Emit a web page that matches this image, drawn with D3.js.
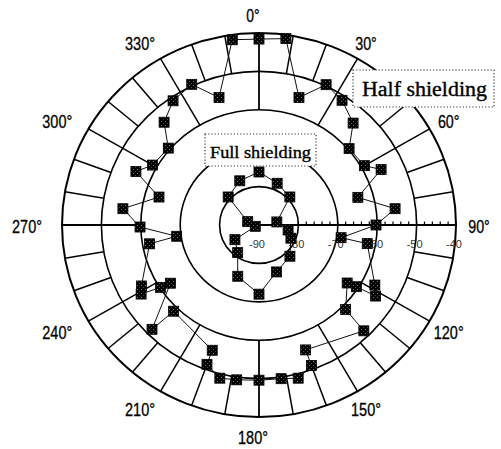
<!DOCTYPE html>
<html>
<head>
<meta charset="utf-8">
<script src="https://cdn.jsdelivr.net/npm/d3@7"></script>
<style>
  body { margin: 0; background: #fff; }
  svg { display: block; }
</style>
</head>
<body>
<svg id="chart" width="501" height="449"></svg>
<script>
// radial axis (dB)
var ringValues = [-80, -70, -60, -50, -40];
var radialLabels = ["-90", "-80", "-70", "-60", "-50", "-40"];
var angleLabels = [0, 30, 60, 90, 120, 150, 180, 210, 240, 270, 300, 330];

// Half shielding (deg, dB)
var halfAngle = [0, 8, 17, 25, 33, 42, 49, 60, 65, 74, 83, 90, 99, 100, 118, 122, 123, 124,
  135, 136, 160, 160, 166, 172, 180, 188, 194, 200, 200, 224, 225, 236, 237, 239, 242,
  260, 262, 269, 277, 286, 294, 300, 311, 318, 326, 335, 343, 352];
var halfDb = [-41.6, -41.0, -55.3, -49.7, -51.3, -54.3, -59.7, -59.1, -55.8, -63.9, -55.2, -60.3, -68.9, -62.1, -56.7, -55.1, -60.5, -63.0,
  -58.9, -51.7, -55.4, -51.1, -48.9, -49.6, -49.6, -49.3, -48.9, -51.4, -55.3, -58.8, -51.6, -62.9, -60.2, -55.1, -56.2,
  -61.8, -68.9, -59.8, -55.2, -63.6, -55.8, -58.8, -59.5, -54.0, -51.0, -49.6, -55.3, -41.3];

// Full shielding (deg, dB)
var fullAngle = [0, 23, 47, 80, 100, 113, 136, 160, 180, 202, 217, 238, 250, 287, 313, 337];
var fullDb = [-76.2, -78.2, -79.3, -85.4, -82.5, -81.2, -78.7, -77.0, -72.0, -75.6, -81.0, -82.8, -89.0, -87.0, -79.3, -77.5];

var svg = d3.select("#chart");
var cx = 259, cy = 225, ky = 0.975;

var r = d3.scaleLinear().domain([-90, -40]).range([0, 197]);
var ang = d3.scaleLinear().domain([0, 360]).range([0, 2 * Math.PI]);

function px(a, v) { return cx + r(v) * Math.sin(ang(a)); }
function py(a, v) { return cy - r(v) * Math.cos(ang(a)) * ky; }

var defs = svg.append("defs");
var pat = defs.append("pattern").attr("id", "speckle")
  .attr("width", 4).attr("height", 4).attr("patternUnits", "userSpaceOnUse");
pat.append("rect").attr("width", 4).attr("height", 4).attr("fill", "#000");
pat.append("rect").attr("x", 1).attr("y", 1).attr("width", 1).attr("height", 1).attr("fill", "#777");
pat.append("rect").attr("x", 3).attr("y", 3).attr("width", 1).attr("height", 1).attr("fill", "#444");

var grid = svg.append("g").attr("stroke", "#000").attr("fill", "none");

// rings
grid.selectAll("ellipse").data(ringValues).enter().append("ellipse")
  .attr("cx", cx).attr("cy", cy)
  .attr("rx", function (d) { return r(d); })
  .attr("ry", function (d) { return r(d) * ky; })
  .attr("stroke-width", function (d) { return d == -40 ? 2 : 1.6; });

// spokes: every 10 deg in outer band, every 30 deg from -60 ring
var spokes = d3.range(0, 360, 10);
grid.selectAll("line.spoke").data(spokes).enter().append("line")
  .attr("class", "spoke")
  .attr("x1", function (d) { return px(d, d == 90 ? -90 : (d % 30 == 0 ? -60 : -50)); })
  .attr("y1", function (d) { return py(d, d == 90 ? -90 : (d % 30 == 0 ? -60 : -50)); })
  .attr("x2", function (d) { return px(d, -40); })
  .attr("y2", function (d) { return py(d, -40); })
  .attr("stroke-width", function (d) { return d % 90 == 0 ? 1.8 : 1.5; });

// minor ticks on radial axis
grid.selectAll("line.tick").data(d3.range(-80, -39, 2)).enter().append("line")
  .attr("class", "tick")
  .attr("x1", function (d) { return px(90, d); })
  .attr("x2", function (d) { return px(90, d); })
  .attr("y1", cy).attr("y2", cy - 3.5)
  .attr("stroke-width", 1.2);

// radial labels
svg.append("g").selectAll("text").data(radialLabels).enter().append("text")
  .attr("x", function (d) { return px(90, +d) - 2; })
  .attr("y", cy + 23)
  .attr("text-anchor", "middle")
  .attr("font-family", "Liberation Sans, Arial, sans-serif")
  .attr("font-size", 11)
  .attr("fill", "#333")
  .text(function (d) { return d; });

// angle labels
svg.append("g").selectAll("text").data(angleLabels).enter().append("text")
  .attr("x", function (d) { return cx - 6 + 226 * Math.sin(ang(d)); })
  .attr("y", function (d) { return cy + 8 - 211 * Math.cos(ang(d)); })
  .attr("text-anchor", "middle")
  .attr("font-family", "Liberation Sans, Arial, sans-serif")
  .attr("font-size", 18)
  .attr("textLength", function (d) { return String(d).length * 8.3 + 5; })
  .attr("lengthAdjust", "spacingAndGlyphs")
  .attr("fill", "#000").attr("stroke", "#000").attr("stroke-width", 0.3)
  .text(function (d) { return d + "\u00b0"; });

function series(angles, dbs) {
  return angles.map(function (a, i) { return { a: a, v: dbs[i] }; });
}
var half = series(halfAngle, halfDb);
var full = series(fullAngle, fullDb);

var line = d3.line()
  .x(function (d) { return px(d.a, d.v); })
  .y(function (d) { return py(d.a, d.v); })
  .curve(d3.curveLinearClosed);

svg.append("path").attr("d", line(half))
  .attr("fill", "none").attr("stroke", "#111").attr("stroke-width", 1);
svg.append("path").attr("d", line(full))
  .attr("fill", "none").attr("stroke", "#111").attr("stroke-width", 1);

// annotation boxes
function note(x, y, w, h, label, size, len, tx, ty) {
  var g = svg.append("g");
  g.append("rect").attr("x", x).attr("y", y).attr("width", w).attr("height", h)
    .attr("fill", "#fff").attr("stroke", "#333").attr("stroke-width", 1.2)
    .attr("stroke-dasharray", "1.2,2");
  g.append("text").attr("x", tx).attr("y", ty)
    .attr("font-family", "Liberation Serif, Times New Roman, serif")
    .attr("font-size", size)
    .attr("textLength", len).attr("lengthAdjust", "spacingAndGlyphs")
    .attr("fill", "#000").attr("stroke", "#000").attr("stroke-width", 0.35)
    .text(label);
}
note(353, 70, 141, 37, "Half shielding", 20, 125, 362, 96);
note(205, 134, 111, 32, "Full shielding", 16.5, 101, 210, 158);

// markers
var ms = 10;
svg.append("g").selectAll("rect").data(half.concat(full)).enter().append("rect")
  .attr("x", function (d) { return px(d.a, d.v) - ms / 2; })
  .attr("y", function (d) { return py(d.a, d.v) - ms / 2; })
  .attr("width", ms).attr("height", ms)
  .attr("fill", "url(#speckle)")
  .attr("stroke", "#000").attr("stroke-width", 0.8);
</script>
</body>
</html>
